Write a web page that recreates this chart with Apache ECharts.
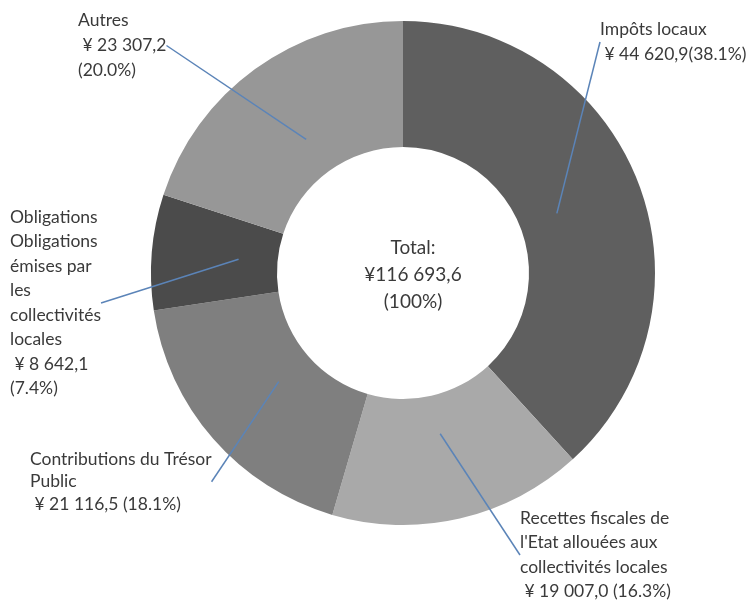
<!DOCTYPE html>
<html><head><meta charset="utf-8">
<script src="https://cdn.jsdelivr.net/npm/echarts@6/dist/echarts.min.js"></script>
<style>html,body{margin:0;padding:0;background:#fff}#c{width:753px;height:603px}</style>
</head><body><div id="c"></div>
<script>
const categories = ["Impôts locaux", "Recettes fiscales de l'Etat allouées aux collectivités locales", "Contributions du Trésor Public", "Obligations émises par les collectivités locales", "Autres"];
const values = [44620.9, 19007.0, 21116.5, 8642.1, 23307.2];
const labelTexts = [
  "Impôts locaux\n ¥ 44 620,9(38.1%)",
  "Recettes fiscales de\nl'Etat allouées aux\ncollectivités locales\n ¥ 19 007,0 (16.3%)",
  "Contributions du Trésor\nPublic\n ¥ 21 116,5 (18.1%)",
  "Obligations\nObligations\némises par\nles\ncollectivités\nlocales\n ¥ 8 642,1\n(7.4%)",
  "Autres\n ¥ 23 307,2\n(20.0%)"
];
const totalText = "Total:\n¥116 693,6\n(100%)";

const colors = ['#5f5f5f', '#a9a9a9', '#7f7f7f', '#4b4b4b', '#979797'];
const labelPos = [[600, 17], [520, 506], [30, 448], [10, 205], [78, 8]];
const labelLH = [25, 24.5, 22.5, 24.5, 25];

const chart = echarts.init(document.getElementById('c'), null, {renderer: 'canvas'});
const FONT = 'Lato, "Open Sans", sans-serif';
const center = [403, 273];

chart.setOption({
  animation: false,
  backgroundColor: '#fff',
  title: {
    text: totalText,
    left: 408, top: 229,
    textAlign: 'center',
    textStyle: {fontFamily: FONT, fontSize: 19, fontWeight: 'normal', color: '#3a3a3a', lineHeight: 27}
  },
  series: [
    {
      type: 'pie',
      center: center,
      radius: [126, 252],
      startAngle: 90,
      clockwise: true,
      silent: true,
      label: {show: false},
      labelLine: {show: false},
      data: categories.map((c, i) => ({name: c, value: values[i], itemStyle: {color: colors[i]}}))
    },
    {
      type: 'pie',
      center: center,
      radius: [0, 165],
      startAngle: 90,
      clockwise: true,
      silent: true,
      z: 5,
      avoidLabelOverlap: false,
      itemStyle: {color: 'rgba(0,0,0,0)'},
      label: {
        show: true,
        position: 'outside',
        fontFamily: FONT,
        fontSize: 17.5,
        color: '#3a3a3a',
        align: 'left'
      },
      labelLine: {show: true, length: 10, length2: 0, lineStyle: {color: '#5b84b8', width: 1.5}},
      labelLayout: function (p) {
        const i = p.dataIndex;
        return {x: labelPos[i][0], y: labelPos[i][1], align: 'left', verticalAlign: 'top'};
      },
      data: categories.map((c, i) => ({
        name: c, value: values[i],
        label: {formatter: labelTexts[i], lineHeight: labelLH[i]}
      }))
    }
  ]
});
</script>
</body></html>
